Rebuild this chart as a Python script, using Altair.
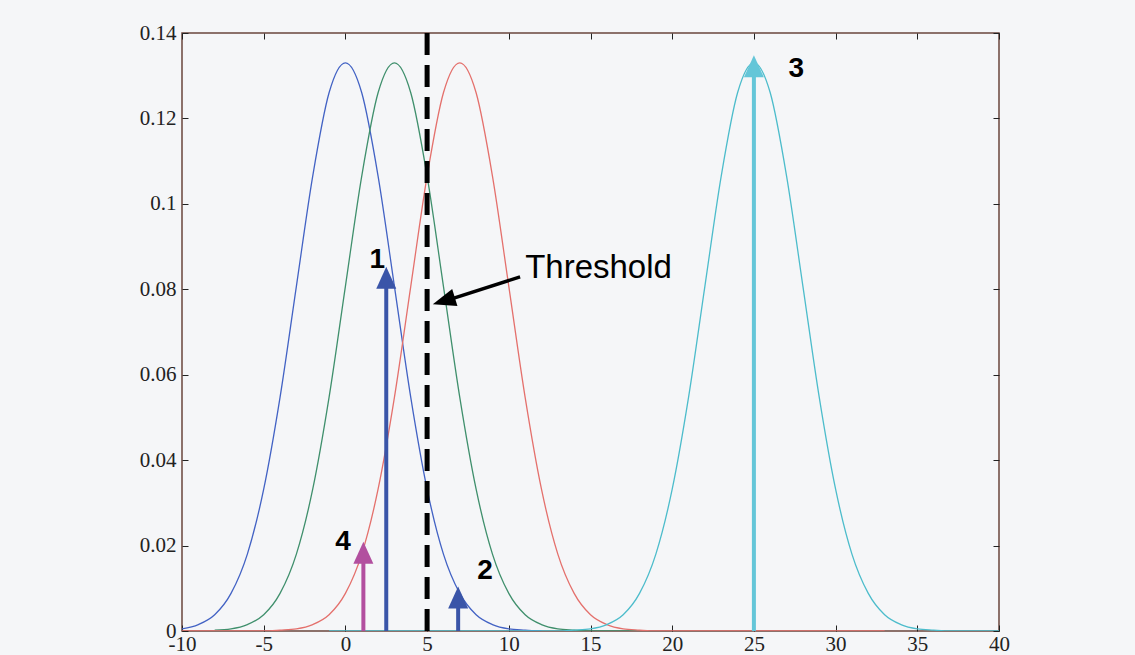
import altair as alt
import pandas as pd

# ---- data ----
# density profile of each bell curve (offset from its centre, value)
PROFILE_OFFSET = [-12, -11, -10, -9, -8, -7, -6, -5, -4, -3, -2, -1, 0,
                  1, 2, 3, 4, 5, 6, 7, 8, 9, 10, 11, 12]
PROFILE_VALUE = [0.0000, 0.0002, 0.0005, 0.0015, 0.0038, 0.0088, 0.0180, 0.0332,
                 0.0547, 0.0807, 0.1065, 0.1260, 0.1330, 0.1260, 0.1065, 0.0807,
                 0.0547, 0.0332, 0.0180, 0.0088, 0.0038, 0.0015, 0.0005, 0.0002, 0.0000]
CURVE_NAMES = ["blue", "green", "red", "cyan"]
CURVE_CENTRE = [0, 3, 7, 25]
CURVE_START = [-10, -8, -10, -1]
CURVE_END = [12, 18, 33, 40]
CURVE_COLORS = ["#4262c4", "#3f8f6c", "#e4706c", "#4cbccb"]

# vertical arrows
ARROW_X = [2.5, 6.9, 25.0, 1.1]
ARROW_TIP = [0.0853, 0.0104, 0.1348, 0.0209]
ARROW_COLOR = ["#3a55a8", "#3a55a8", "#64c6d8", "#b24f9f"]
ARROW_LABEL = ["1", "2", "3", "4"]
LABEL_X = [1.95, 8.55, 27.6, -0.15]
LABEL_Y = [0.0869, 0.0140, 0.1316, 0.0208]

THRESHOLD_X = 5
THRESH_TEXT = "Threshold"
THRESH_TEXT_X = 11.0
THRESH_TEXT_Y = 0.0850
THRESH_ARROW_FROM = (10.69, 0.0829)
THRESH_ARROW_TO = (6.45, 0.0777)
THRESH_ARROW_TIP = (5.35, 0.0765)

X_TICKS = [-10, -5, 0, 5, 10, 15, 20, 25, 30, 35, 40]
Y_TICKS = [0, 0.02, 0.04, 0.06, 0.08, 0.1, 0.12, 0.14]

# ---- tables ----
rows = []
for name, c, s, e in zip(CURVE_NAMES, CURVE_CENTRE, CURVE_START, CURVE_END):
    pts = [(c + o, v) for o, v in zip(PROFILE_OFFSET, PROFILE_VALUE) if s <= c + o <= e]
    if pts[0][0] > s:
        pts.insert(0, (s, 0.0))
    if pts[-1][0] < e:
        pts.append((e, 0.0))
    for i, (x, y) in enumerate(pts):
        rows.append({"curve": name, "x": x, "y": y, "order": i})
curve_df = pd.DataFrame(rows)

arrow_df = pd.DataFrame({
    "x": ARROW_X,
    "tip": ARROW_TIP,
    "shaft": [t - 0.0025 for t in ARROW_TIP],
    "base": [0.0] * 4,
    "color": ARROW_COLOR,
})
label_df = pd.DataFrame({"x": LABEL_X, "y": LABEL_Y, "t": ARROW_LABEL})

xs = alt.Scale(domain=[-10, 40], nice=False, zero=False)
ys = alt.Scale(domain=[0, 0.14], nice=False, zero=False)

FONT_AX = "Liberation Serif"

x_axis = alt.Axis(values=X_TICKS, labelExpr="'' + datum.value", offset=-6, tickSize=6,
                  domain=False, grid=False, title=None, labelFont=FONT_AX, labelFontSize=21,
                  labelColor="#222222", tickColor="#222222", labelPadding=2, labelFlush=False)
y_axis = alt.Axis(values=Y_TICKS, format=".2~f", offset=-6, tickSize=6, domain=False,
                  grid=False, title=None, labelFont=FONT_AX, labelFontSize=21,
                  labelColor="#222222", tickColor="#222222", labelPadding=6, labelFlush=False)
x_axis_top = alt.Axis(values=X_TICKS, orient="top", offset=-6, tickSize=6, labels=False,
                      domain=False, grid=False, title=None, tickColor="#222222")
y_axis_right = alt.Axis(values=Y_TICKS, orient="right", offset=-6, tickSize=6, labels=False,
                        domain=False, grid=False, title=None, tickColor="#222222")

curves = alt.Chart(curve_df).mark_line(strokeWidth=1.3, interpolate="monotone", clip=True).encode(
    x=alt.X("x:Q", scale=xs, axis=x_axis),
    y=alt.Y("y:Q", scale=ys, axis=y_axis),
    color=alt.Color("curve:N", scale=alt.Scale(domain=CURVE_NAMES, range=CURVE_COLORS), legend=None),
    detail="curve:N",
    order="order:Q",
)

threshold = alt.Chart(pd.DataFrame({"x": [THRESHOLD_X], "y0": [0.0], "y1": [0.14]})).mark_rule(
    color="black", strokeWidth=5, strokeDash=[22, 10]).encode(
    x=alt.X("x:Q", scale=xs), y=alt.Y("y0:Q", scale=ys), y2="y1:Q")

shafts = alt.Chart(arrow_df).mark_rule(strokeWidth=4).encode(
    x=alt.X("x:Q", scale=xs), y=alt.Y("base:Q", scale=ys), y2="shaft:Q",
    color=alt.Color("color:N", scale=None))

heads = alt.Chart(arrow_df).mark_point(
    filled=True, shape="M 0 0 L 1 2.2 L -1 2.2 Z", size=400, opacity=1, strokeWidth=0).encode(
    x=alt.X("x:Q", scale=xs), y=alt.Y("tip:Q", scale=ys),
    color=alt.Color("color:N", scale=None))

labels = alt.Chart(label_df).mark_text(
    font="Liberation Sans", fontWeight="bold", fontSize=28, color="black",
    align="center", baseline="middle").encode(
    x=alt.X("x:Q", scale=xs), y=alt.Y("y:Q", scale=ys), text="t:N")

thresh_text = alt.Chart(pd.DataFrame({"x": [THRESH_TEXT_X], "y": [THRESH_TEXT_Y], "t": [THRESH_TEXT]})).mark_text(
    font="Liberation Sans", fontSize=33, color="black", align="left", baseline="middle").encode(
    x=alt.X("x:Q", scale=xs), y=alt.Y("y:Q", scale=ys), text="t:N")

thresh_line = alt.Chart(pd.DataFrame({
    "x": [THRESH_ARROW_FROM[0]], "y": [THRESH_ARROW_FROM[1]],
    "x2": [THRESH_ARROW_TO[0]], "y2": [THRESH_ARROW_TO[1]]})).mark_rule(
    color="black", strokeWidth=3.5).encode(
    x=alt.X("x:Q", scale=xs), y=alt.Y("y:Q", scale=ys), x2="x2:Q", y2="y2:Q")

thresh_head = alt.Chart(pd.DataFrame({"x": [THRESH_ARROW_TIP[0]], "y": [THRESH_ARROW_TIP[1]]})).mark_point(
    filled=True, shape="M 0 0 L 0.9 2.3 L -0.9 2.3 Z", size=400, opacity=1, strokeWidth=0,
    color="black", angle=253).encode(
    x=alt.X("x:Q", scale=xs), y=alt.Y("y:Q", scale=ys))

inner = alt.layer(curves, threshold, shafts, heads, labels, thresh_text, thresh_line, thresh_head)

mirror = alt.Chart(pd.DataFrame({"x": [0], "y": [0]})).mark_point(opacity=0).encode(
    x=alt.X("x:Q", scale=xs, axis=x_axis_top),
    y=alt.Y("y:Q", scale=ys, axis=y_axis_right))

chart = alt.layer(inner, mirror).resolve_scale(x="independent", y="independent").properties(
    width=817, height=598,
    autosize=alt.AutoSizeParams(type="none"),
    padding={"left": 182, "top": 33, "right": 136, "bottom": 24},
    background="#f5f6f8",
).configure_view(
    stroke="#6a453c", strokeWidth=1.5, fill="#f5f6f8"
)

chart.save("out.html", embed_options={"renderer": "svg", "actions": False})
